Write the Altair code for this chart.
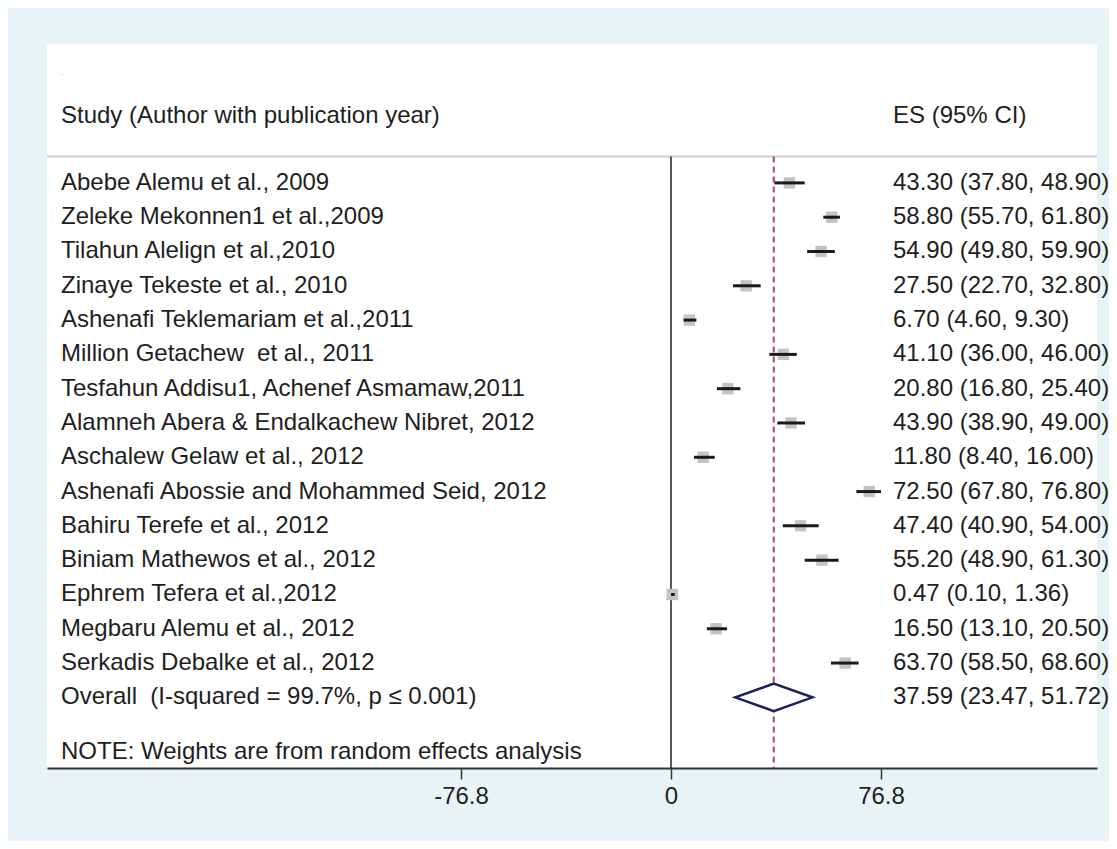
import altair as alt
import pandas as pd

studies = [
    "Abebe Alemu et al., 2009",
    "Zeleke Mekonnen1 et al.,2009",
    "Tilahun Alelign et al.,2010",
    "Zinaye Tekeste et al., 2010",
    "Ashenafi Teklemariam et al.,2011",
    "Million Getachew\u00a0 et al., 2011",
    "Tesfahun Addisu1, Achenef Asmamaw,2011",
    "Alamneh Abera & Endalkachew Nibret, 2012",
    "Aschalew Gelaw et al., 2012",
    "Ashenafi Abossie and Mohammed Seid, 2012",
    "Bahiru Terefe et al., 2012",
    "Biniam Mathewos et al., 2012",
    "Ephrem Tefera et al.,2012",
    "Megbaru Alemu et al., 2012",
    "Serkadis Debalke et al., 2012",
]
es = [43.30, 58.80, 54.90, 27.50, 6.70, 41.10, 20.80, 43.90, 11.80, 72.50, 47.40, 55.20, 0.47, 16.50, 63.70]
lower = [37.80, 55.70, 49.80, 22.70, 4.60, 36.00, 16.80, 38.90, 8.40, 67.80, 40.90, 48.90, 0.10, 13.10, 58.50]
upper = [48.90, 61.80, 59.90, 32.80, 9.30, 46.00, 25.40, 49.00, 16.00, 76.80, 54.00, 61.30, 1.36, 20.50, 68.60]
weights = [6.7, 6.7, 6.7, 6.7, 6.7, 6.7, 6.7, 6.7, 6.7, 6.7, 6.6, 6.6, 6.7, 6.7, 6.7]

overall_label = "Overall\u00a0 (I-squared = 99.7%, p \u2264 0.001)"
overall_es, overall_lo, overall_hi = 37.59, 23.47, 51.72

header_left = "Study (Author with publication year)"
header_right = "ES (95% CI)"
note = "NOTE: Weights are from random effects analysis"
tick_values = [-76.8, 0, 76.8]

FONT = "Liberation Sans"
FS = 24
TXT = "#1e1e1e"

n = len(studies)
df = pd.DataFrame({
    "study": studies, "es": es, "lo": lower, "hi": upper, "w": weights,
    "row": list(range(n)),
})
df["label"] = [f"{e:.2f} ({l:.2f}, {h:.2f})" for e, l, h in zip(es, lower, upper)]

overall_row = n
ov_text = pd.DataFrame({
    "study": [overall_label],
    "label": [f"{overall_es:.2f} ({overall_lo:.2f}, {overall_hi:.2f})"],
    "row": [overall_row],
})
dh = 0.4
diamond = pd.DataFrame({
    "x": [overall_lo, overall_es, overall_hi],
    "top": [overall_row, overall_row - dh, overall_row],
    "bot": [overall_row, overall_row + dh, overall_row],
})

HEADER_ROW = -1.95
SEP_ROW = -0.77
NOTE_ROW = 16.6
DOT_ROW = -3.2
Y_DOM = [-4.05, 17.06]
X_DOM = [-228.2, 155.8]

xs = alt.Scale(domain=X_DOM, nice=False, zero=False)
ys = alt.Scale(domain=Y_DOM, reverse=True, nice=False, zero=False)

xax = alt.X("es:Q", scale=xs, title=None,
            axis=alt.Axis(values=tick_values, grid=False, domainColor="#333333", domainWidth=2,
                          tickColor="#333333", tickWidth=1.5, tickSize=11,
                          labelFont=FONT, labelFontSize=FS, labelColor=TXT, labelPadding=5,
                          labelExpr="datum.value == 0 ? '0' : (datum.value < 0 ? '-' : '') + format(abs(datum.value), '.1f')"))
yax = alt.Y("row:Q", scale=ys, axis=None)

base = alt.Chart(df)

hdr = pd.DataFrame({"row": [HEADER_ROW], "left": [header_left], "right": [header_right]})
hdr_left = alt.Chart(hdr).mark_text(align="left", baseline="middle", font=FONT, fontSize=FS, color=TXT).encode(
    x=alt.value(14), y=alt.Y("row:Q", scale=ys, axis=None), text="left:N")
hdr_right = alt.Chart(hdr).mark_text(align="left", baseline="middle", font=FONT, fontSize=FS, color=TXT).encode(
    x=alt.value(846), y=alt.Y("row:Q", scale=ys, axis=None), text="right:N")
dot = alt.Chart(pd.DataFrame({"row": [DOT_ROW], "t": ["."]})).mark_text(
    align="left", baseline="middle", font=FONT, fontSize=6, color=TXT).encode(
    x=alt.value(14), y=alt.Y("row:Q", scale=ys, axis=None), text="t:N")
sep = alt.Chart(pd.DataFrame({"row": [SEP_ROW]})).mark_rule(color="#cccccc", strokeWidth=2).encode(
    y=alt.Y("row:Q", scale=ys, axis=None))

vlines = pd.DataFrame({"x": [0.0], "r1": [SEP_ROW], "r2": [Y_DOM[1]]})
zero_line = alt.Chart(vlines).mark_rule(color="#222222", strokeWidth=1.5).encode(
    x=alt.X("x:Q", scale=xs), y=alt.Y("r1:Q", scale=ys, axis=None), y2="r2:Q")
ovline = pd.DataFrame({"x": [overall_es], "r1": [SEP_ROW], "r2": [Y_DOM[1]]})
dash_line = alt.Chart(ovline).mark_rule(color="#a64a5a", strokeWidth=2, strokeDash=[6, 4]).encode(
    x=alt.X("x:Q", scale=xs), y=alt.Y("r1:Q", scale=ys, axis=None), y2="r2:Q")

boxes = base.mark_square(color="#c3c3c3", opacity=1).encode(
    x=xax, y=yax, size=alt.Size("w:Q", scale=alt.Scale(domain=[0, 6.7], range=[0, 130]), legend=None))
ci = base.mark_rule(color="#1a1a1a", strokeWidth=3).encode(
    x=alt.X("lo:Q", scale=xs), x2="hi:Q", y=yax)
centre = base.mark_square(color="#1a1a1a", size=5, opacity=1).encode(x=alt.X("es:Q", scale=xs), y=yax)

names = base.mark_text(align="left", baseline="middle", font=FONT, fontSize=FS, color=TXT).encode(
    x=alt.value(14), y=yax, text="study:N")
labels = base.mark_text(align="left", baseline="middle", font=FONT, fontSize=FS, color=TXT).encode(
    x=alt.value(846), y=yax, text="label:N")

ov_names = alt.Chart(ov_text).mark_text(align="left", baseline="middle", font=FONT, fontSize=FS, color=TXT).encode(
    x=alt.value(14), y=alt.Y("row:Q", scale=ys, axis=None), text="study:N")
ov_labels = alt.Chart(ov_text).mark_text(align="left", baseline="middle", font=FONT, fontSize=FS, color=TXT).encode(
    x=alt.value(846), y=alt.Y("row:Q", scale=ys, axis=None), text="label:N")

dia = alt.Chart(diamond).mark_area(fill="white", stroke="#1f1f5f", strokeWidth=2.5, orient="vertical").encode(
    x=alt.X("x:Q", scale=xs), y=alt.Y("top:Q", scale=ys, axis=None), y2="bot:Q")

note_layer = alt.Chart(pd.DataFrame({"row": [NOTE_ROW], "t": [note]})).mark_text(
    align="left", baseline="middle", font=FONT, fontSize=FS, color=TXT).encode(
    x=alt.value(14), y=alt.Y("row:Q", scale=ys, axis=None), text="t:N")

chart = alt.layer(
    sep, zero_line, dash_line, dot, hdr_left, hdr_right,
    boxes, ci, centre, names, labels,
    dia, ov_names, ov_labels, note_layer,
).properties(
    width=1050, height=724,
    padding={"left": 39, "top": 36, "right": 12, "bottom": 73},
    autosize=alt.AutoSizeParams(type="none"),
    background="#e9f2f4",
).configure_view(fill="white", strokeWidth=0)

chart.save("out.html", embed_options={"renderer": "svg", "actions": False})
